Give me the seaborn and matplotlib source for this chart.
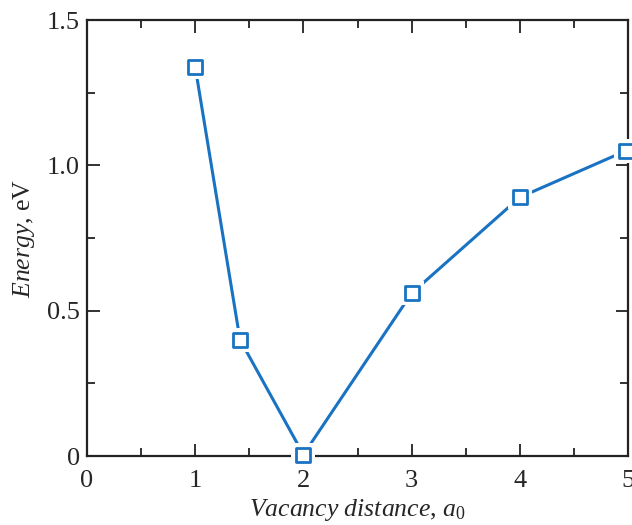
import pandas as pd
import matplotlib.pyplot as plt
import seaborn as sns
from matplotlib.ticker import MultipleLocator, FixedLocator

distance = [1.0, 1.414, 2.0, 3.0, 4.0, 4.98]
energy = [1.338, 0.40, 0.005, 0.56, 0.89, 1.05]

x_ticks = [0, 1, 2, 3, 4, 5]
y_ticks = [0, 0.5, 1.0, 1.5]
y_labels = ['0', '0.5', '1.0', '1.5']

df = pd.DataFrame({'distance': distance, 'energy': energy})

sns.set_style('ticks')
plt.rcParams['font.family'] = ['Liberation Serif', 'DejaVu Serif']
plt.rcParams['mathtext.fontset'] = 'custom'
plt.rcParams['mathtext.rm'] = 'Liberation Serif'
plt.rcParams['mathtext.it'] = 'Liberation Serif:italic'

blue = '#1a73c2'

fig = plt.figure(figsize=(6.32, 5.25), dpi=100)
ax = fig.add_axes([0.1377, 0.1314, 0.856, 0.8305])

sns.lineplot(data=df, x='distance', y='energy', color=blue, linewidth=2.2, ax=ax, zorder=2)
# white halo so the line stops short of each marker
sns.scatterplot(data=df, x='distance', y='energy', marker='s', s=300, color='white',
                edgecolor='none', ax=ax, zorder=3, clip_on=False)
sns.scatterplot(data=df, x='distance', y='energy', marker='s', s=105, facecolor='white',
                edgecolor=blue, linewidth=2.0, ax=ax, zorder=4, clip_on=False)

ax.set_xlim(0, 5)
ax.set_ylim(0, 1.5)
ax.xaxis.set_major_locator(FixedLocator(x_ticks))
ax.xaxis.set_minor_locator(MultipleLocator(0.5))
ax.set_yticks(y_ticks)
ax.set_yticklabels(y_labels)
ax.yaxis.set_minor_locator(MultipleLocator(0.25))

ax.tick_params(which='both', direction='in', top=True, right=True, width=1.3, color='#222222')
ax.tick_params(which='major', length=9, labelsize=19, pad=5)
ax.tick_params(axis='x', which='major', pad=10)
ax.tick_params(which='minor', length=6)
for sp in ax.spines.values():
    sp.set_linewidth(1.6)
    sp.set_color('#222222')

ax.set_xlabel(r'$\mathit{Vacancy\ distance,\/a}_{\mathrm{0}}$', fontsize=18.5, labelpad=4)
ax.set_ylabel(r'$\mathit{Energy}$, eV', fontsize=18.5, labelpad=7)

fig.savefig('out.png', dpi=100)
